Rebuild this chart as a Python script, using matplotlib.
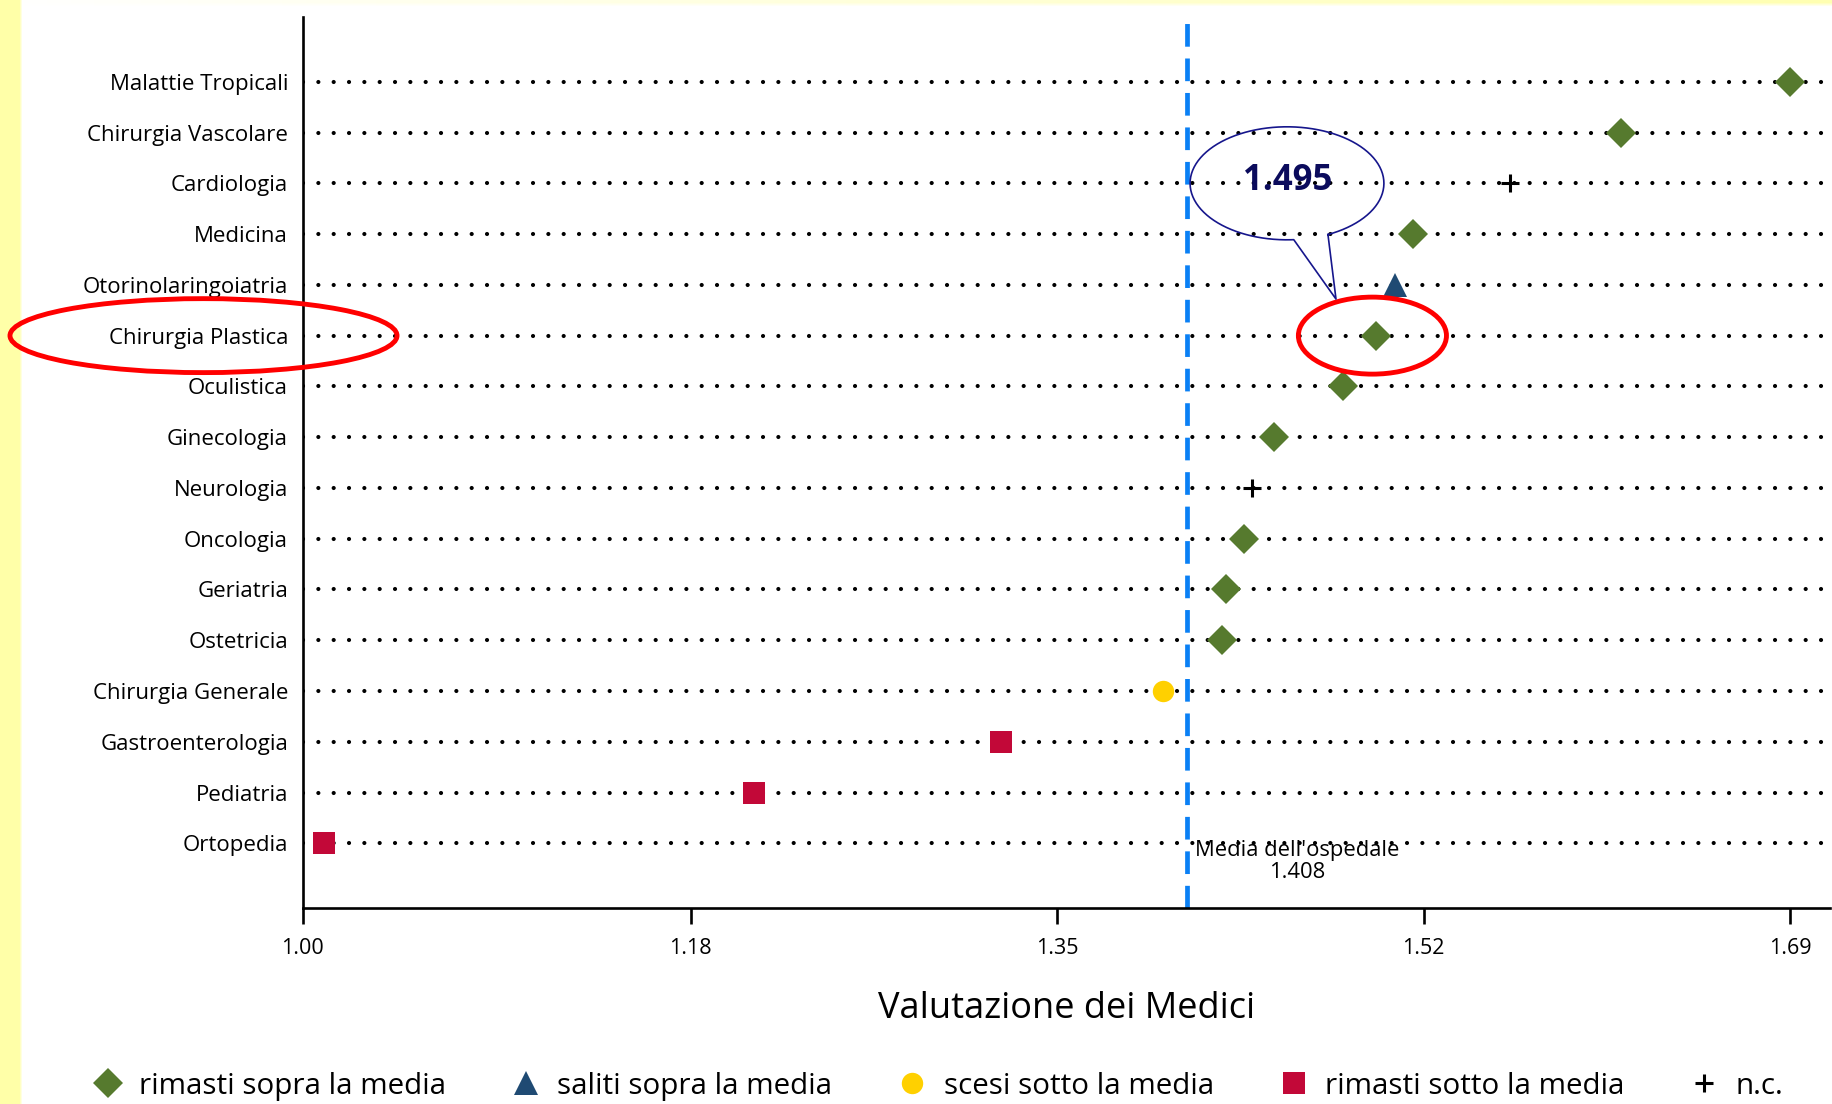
"""
Valutazione dei Medici per reparto: dot plot con media dell'ospedale.
"""
import numpy as np
import matplotlib
matplotlib.use("Agg")
import matplotlib.pyplot as plt
from matplotlib.patches import Ellipse

reparti = ["Malattie Tropicali", "Chirurgia Vascolare", "Cardiologia", "Medicina",
           "Otorinolaringoiatria", "Chirurgia Plastica", "Oculistica", "Ginecologia",
           "Neurologia", "Oncologia", "Geriatria", "Ostetricia", "Chirurgia Generale",
           "Gastroenterologia", "Pediatria", "Ortopedia"]
valori = [1.686, 1.608, 1.557, 1.512, 1.504, 1.495, 1.480, 1.448,
          1.438, 1.434, 1.426, 1.424, 1.397, 1.322, 1.208, 1.010]
gruppi = ["sopra", "sopra", "nc", "sopra", "saliti", "sopra", "sopra", "sopra",
          "nc", "sopra", "sopra", "sopra", "scesi", "sotto", "sotto", "sotto"]
media = 1.408
x_ticks = [1.00, 1.179, 1.348, 1.517, 1.686]
evidenziato = "Chirurgia Plastica"

ordine_legenda = ["sopra", "saliti", "scesi", "sotto", "nc"]
etichette = {"sopra": "rimasti sopra la media", "saliti": "saliti sopra la media",
             "scesi": "scesi sotto la media", "sotto": "rimasti sotto la media",
             "nc": "n.c."}
stili = {"sopra": dict(marker="D", color="#567A2E", ms=14.8),
         "saliti": dict(marker="^", color="#1F4A73", ms=17),
         "scesi": dict(marker="o", color="#FFD000", ms=15.4),
         "sotto": dict(marker="s", color="#C20838", ms=15.7),
         "nc": dict(marker="+", color="black", ms=13, mew=2.2)}


def sfondo(fig):
    # bordo giallo della slide
    W, H = 1832, 1104
    xx, yy = np.meshgrid(np.arange(W), np.arange(H))
    left = np.clip((22 - xx) / 3.0, 0, 1)
    top = np.clip((6 - yy) / 4.0, 0, 1) * (xx / W) * 0.9
    k = np.maximum(left, top)[..., None]
    yellow = np.array([1.0, 1.0, 0.66])
    img = (1 - k) * np.ones(3) + k * yellow
    bg = fig.add_axes([0, 0, 1, 1], zorder=-10)
    bg.imshow(img, aspect="auto", interpolation="nearest")
    bg.axis("off")


def main():
    plt.rcParams["font.family"] = ["Open Sans", "DejaVu Sans"]
    fig = plt.figure(figsize=(18.32, 11.04), dpi=100)
    sfondo(fig)
    ax = fig.add_axes([0.16517, 0.17726, 0.8337, 0.80689])
    ax.set_facecolor("none")

    n = len(reparti)
    pos = {r: n - 1 - i for i, r in enumerate(reparti)}

    # righe tratteggiate a puntini
    for r in reparti:
        ax.axhline(pos[r], color="black", lw=3.0, linestyle=(0, (0.01, 3.67)),
                   dash_capstyle="round", zorder=3)

    ax.axvline(media, color="#0A80F5", lw=3.4, linestyle=(0, (4.8, 2.5)), zorder=2)

    handles = {}
    for g in ordine_legenda:
        xs = [v for v, gg in zip(valori, gruppi) if gg == g]
        ys = [pos[r] for r, gg in zip(reparti, gruppi) if gg == g]
        st = dict(stili[g])
        h, = ax.plot(xs, ys, linestyle="none", marker=st.pop("marker"),
                     color=st.pop("color"), markersize=st.pop("ms"),
                     markeredgewidth=st.pop("mew", 0), label=etichette[g], zorder=4)
        handles[g] = h

    ax.text(media + 0.0035, -0.36, f"Media dell'ospedale\n{media:.3f}",
            ha="left", va="center", multialignment="center", fontsize=15.8,
            linespacing=1.05, zorder=5)

    # evidenziazione
    yp = pos[evidenziato]
    vp = valori[reparti.index(evidenziato)]
    ax.add_patch(Ellipse((vp - 0.0016, yp), 0.0683, 1.517, fill=False,
                         ec="#FF0000", lw=3.5, zorder=6))
    ax.add_patch(Ellipse((0.9543, yp), 0.1785, 1.457, fill=False, ec="#FF0000",
                         lw=3.5, zorder=6, clip_on=False))

    # fumetto con il valore
    cx, cy, a, b = vp - 0.041, yp + 3.0, 0.0447, 1.113
    t = np.radians(np.linspace(-65, 274, 200))
    px = list(cx + a * np.cos(t)) + [vp - 0.0184, cx + a * np.cos(np.radians(-65))]
    py = list(cy + b * np.sin(t)) + [yp + 0.72, cy + b * np.sin(np.radians(-65))]
    ax.plot(px, py, color="#16168C", lw=1.2, zorder=6)
    ax.text(cx + 0.0003, cy + 0.04, f"{vp:.3f}", ha="center", va="center",
            fontsize=25, fontweight="bold", color="#0B0B5C", zorder=7)

    ax.set_xlim(1.0, 1.7044)
    ax.set_ylim(-1.28, 16.266)
    ax.set_yticks([pos[r] for r in reparti])
    ax.set_yticklabels(reparti)
    ax.set_xticks(x_ticks)
    ax.set_xticklabels([f"{v:.2f}" for v in x_ticks])
    ax.tick_params(axis="y", length=0, pad=10.5, labelsize=16)
    ax.tick_params(axis="x", length=11.3, width=1.9, pad=10, labelsize=15.5)
    for s in ["top", "right"]:
        ax.spines[s].set_visible(False)
    for s in ["left", "bottom"]:
        ax.spines[s].set_linewidth(1.9)
    ax.set_xlabel("Valutazione dei Medici", fontsize=26, labelpad=23)

    fig.legend([handles[g] for g in ordine_legenda],
               [etichette[g] for g in ordine_legenda],
               loc="center left", bbox_to_anchor=(92.9 / 1832, 0.016), ncol=5,
               frameon=False, fontsize=21.3, handlelength=1.0, handletextpad=0.56,
               columnspacing=2.2, borderpad=0, borderaxespad=0)

    fig.savefig("out.png", dpi=100)


if __name__ == "__main__":
    main()
